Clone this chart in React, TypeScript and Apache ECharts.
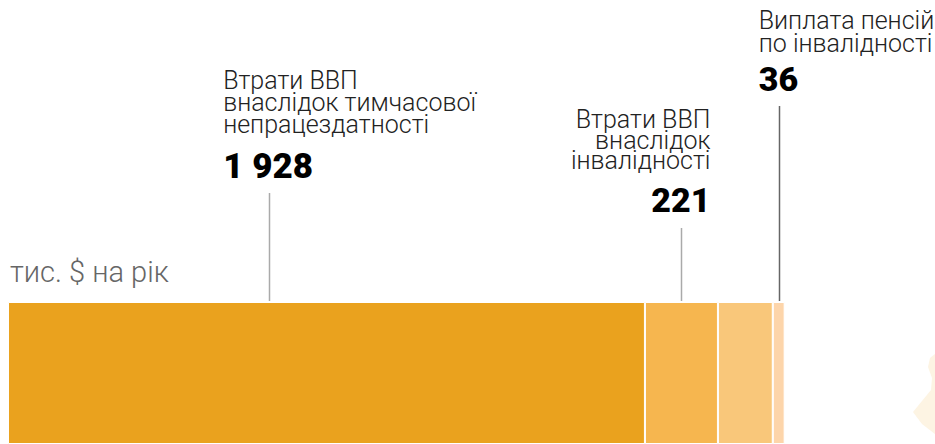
import React, { useEffect, useRef } from "react";
import * as echarts from "echarts";

const categories = [
  "Втрати ВВП\nвнаслідок тимчасової\nнепрацездатності",
  "Втрати ВВП\nвнаслідок\nінвалідності",
  "",
  "Виплата пенсій\nпо інвалідності",
];
const values = [1928, 221, 166, 36];
const valueLabels = ["1 928", "221", "", "36"];
const colors = ["#EAA21E", "#F6B64F", "#F9C77A", "#FDD5AA"];
const unitLabel = "тис. $ на рік";
// where the leader line touches each segment (fraction of the segment)
const anchorFractions = [0.41, 0.5, null, 0.5];

export default function App() {
  const ref = useRef<HTMLDivElement>(null);
  useEffect(() => {
    const chart = echarts.init(ref.current!, null, { renderer: "svg" });
    const font = "'Roboto Light', Roboto, 'Noto Sans', sans-serif";
    const boldFont = "Roboto, 'Noto Sans', sans-serif";
    chart.setOption({
      animation: false,
      grid: { left: 8, right: 2, top: 302, bottom: 0, containLabel: false },
      xAxis: { type: "value", min: 0, max: 2800, show: false },
      yAxis: { type: "category", data: ["total"], show: false },
      series: values.map((v, i) => ({
        type: "bar",
        name: categories[i] || "інше",
        stack: "total",
        data: [v],
        barWidth: "100%",
        itemStyle: { color: colors[i], borderColor: "#fff", borderWidth: 1 },
        silent: true,
      })),
    });

    const px = (v: number) => chart.convertToPixel({ xAxisIndex: 0 }, v) as number;
    const barTop = 302;
    const graphics: any[] = [];
    let start = 0;
    const anchors: (number | null)[] = values.map((v, i) => {
      const f = anchorFractions[i];
      const a = f == null ? null : px(start + v * f);
      start += v;
      return a;
    });

    const layout: any[] = [
      { align: "left", dx: -46, ty: 102, lh: 22, ny: 166.5, nsize: 35, lineTop: 193, lineColor: "#aaa" },
      { align: "right", dx: 29, ty: 140, lh: 20.5, ny: 200, nsize: 34, lineTop: 228, lineColor: "#aaa" },
      null,
      { align: "left", dx: -20, ty: 32, lh: 23.5, ny: 79, nsize: 34, lineTop: 106, lineColor: "#666" },
    ];

    categories.forEach((c, i) => {
      const a = anchors[i];
      const L = layout[i];
      if (a == null || !L) return;
      const x = Math.round(a) + 0.5;
      graphics.push({
        type: "line",
        shape: { x1: x, y1: L.lineTop, x2: x, y2: barTop - 1 },
        style: { stroke: L.lineColor, lineWidth: 1.5 },
        silent: true,
      });
      graphics.push({
        type: "text",
        x: a + L.dx,
        y: L.ty,
        style: {
          text: c,
          font: `300 25px ${font}`,
          fill: "#222",
          textAlign: L.align,
          textVerticalAlign: "middle",
          lineHeight: L.lh,
        },
      });
      graphics.push({
        type: "text",
        x: a + L.dx,
        y: L.ny,
        style: {
          text: valueLabels[i],
          font: `900 ${L.nsize}px ${boldFont}`,
          fill: "#000",
          textAlign: L.align,
          textVerticalAlign: "middle",
        },
      });
    });

    graphics.push({
      type: "text",
      x: 10,
      y: 272,
      style: {
        text: unitLabel,
        font: `300 29px ${font}`,
        fill: "#666",
        textAlign: "left",
        textVerticalAlign: "middle",
      },
    });

    graphics.push({
      type: "polygon",
      shape: {
        points: [
          [935, 354],
          [930, 358],
          [928, 367],
          [932, 378],
          [931, 390],
          [913, 412],
          [922, 424],
          [935, 434],
        ],
      },
      style: { fill: "#FDF4E3" },
      silent: true,
    });

    chart.setOption({ graphic: graphics });
    return () => chart.dispose();
  }, []);
  return (
    <div
      ref={ref}
      style={{ position: "fixed", left: 0, top: 0, width: 935, height: 444, background: "#fff" }}
    />
  );
}
